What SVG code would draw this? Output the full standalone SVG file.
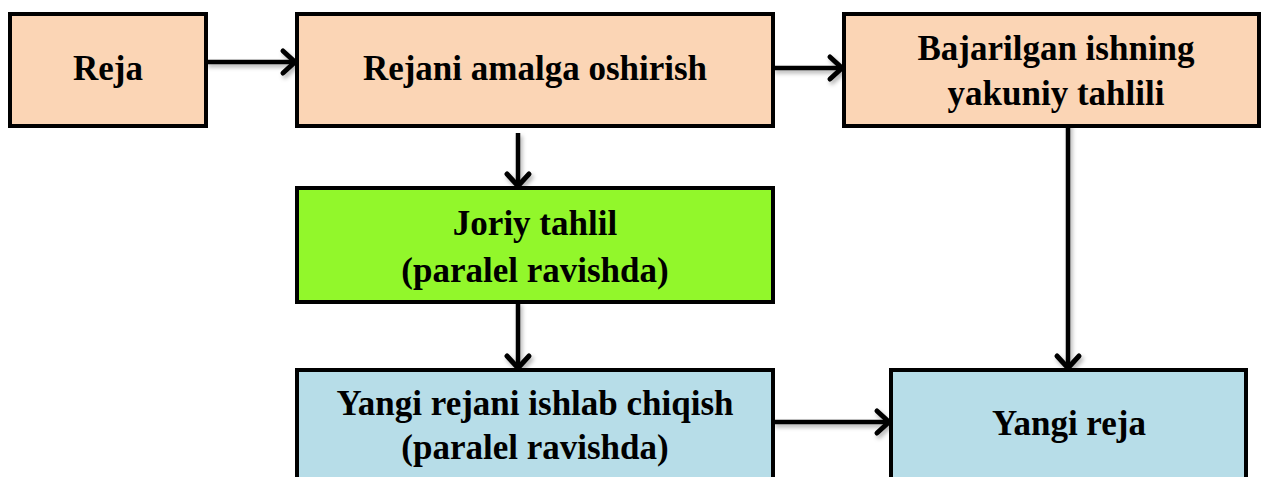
<svg xmlns="http://www.w3.org/2000/svg" width="1261" height="477" viewBox="0 0 1261 477">
  <style>
    .box { stroke: #000; stroke-width: 4; }
    .peach { fill: #FBD5B5; }
    .green { fill: #92F72B; }
    .blue { fill: #B7DDE8; }
    .lbl { font-family: "Liberation Serif", "Times New Roman", serif; font-weight: bold; font-size: 35px; fill: #000; text-anchor: middle; }
    .conn { stroke: #000; stroke-width: 4.5; fill: none; marker-end: url(#arrow); }
  </style>
  <defs>
    <marker id="arrow" markerUnits="userSpaceOnUse" viewBox="-16 -14 20 28" refX="0" refY="0" markerWidth="20" markerHeight="28" orient="auto" overflow="visible">
      <path d="M -12 -11 L 0 0 L -12 11" fill="none" stroke="#000" stroke-width="5" stroke-linecap="round" stroke-linejoin="miter"/>
    </marker>
    <filter id="sh" x="-20%" y="-20%" width="140%" height="140%">
      <feDropShadow dx="2" dy="3" stdDeviation="2" flood-color="#000" flood-opacity="0.3"/>
    </filter>
  </defs>
  <rect width="1261" height="477" fill="#fff"/>

  <g id="connectors" filter="url(#sh)">
    <line class="conn" x1="206" y1="62" x2="295" y2="62"/>
    <line class="conn" x1="773" y1="68" x2="842" y2="68"/>
    <line class="conn" x1="518" y1="133" x2="518" y2="186"/>
    <line class="conn" x1="518" y1="302" x2="518" y2="368"/>
    <line class="conn" x1="1068" y1="123" x2="1068" y2="368"/>
    <line class="conn" x1="773" y1="422" x2="889" y2="422"/>
  </g>

  <g id="node-reja">
    <rect class="box peach" x="10" y="14" width="196" height="112"/>
    <text class="lbl" x="108" y="80">Reja</text>
  </g>
  <g id="node-rejani-amalga">
    <rect class="box peach" x="297" y="14" width="476" height="112"/>
    <text class="lbl" x="535" y="80">Rejani amalga oshirish</text>
  </g>
  <g id="node-bajarilgan">
    <rect class="box peach" x="844" y="14" width="415" height="112"/>
    <text class="lbl" x="1056" y="60">Bajarilgan ishning</text>
    <text class="lbl" x="1056" y="105">yakuniy tahlili</text>
  </g>
  <g id="node-joriy">
    <rect class="box green" x="297" y="188" width="476" height="114"/>
    <text class="lbl" x="535" y="235">Joriy tahlil</text>
    <text class="lbl" x="535" y="282">(paralel ravishda)</text>
  </g>
  <g id="node-yangi-rejani">
    <rect class="box blue" x="297" y="370" width="476" height="120"/>
    <text class="lbl" x="535" y="415">Yangi rejani ishlab chiqish</text>
    <text class="lbl" x="535" y="459">(paralel ravishda)</text>
  </g>
  <g id="node-yangi-reja">
    <rect class="box blue" x="891" y="370" width="355" height="120"/>
    <text class="lbl" x="1069" y="435">Yangi reja</text>
  </g>
</svg>
